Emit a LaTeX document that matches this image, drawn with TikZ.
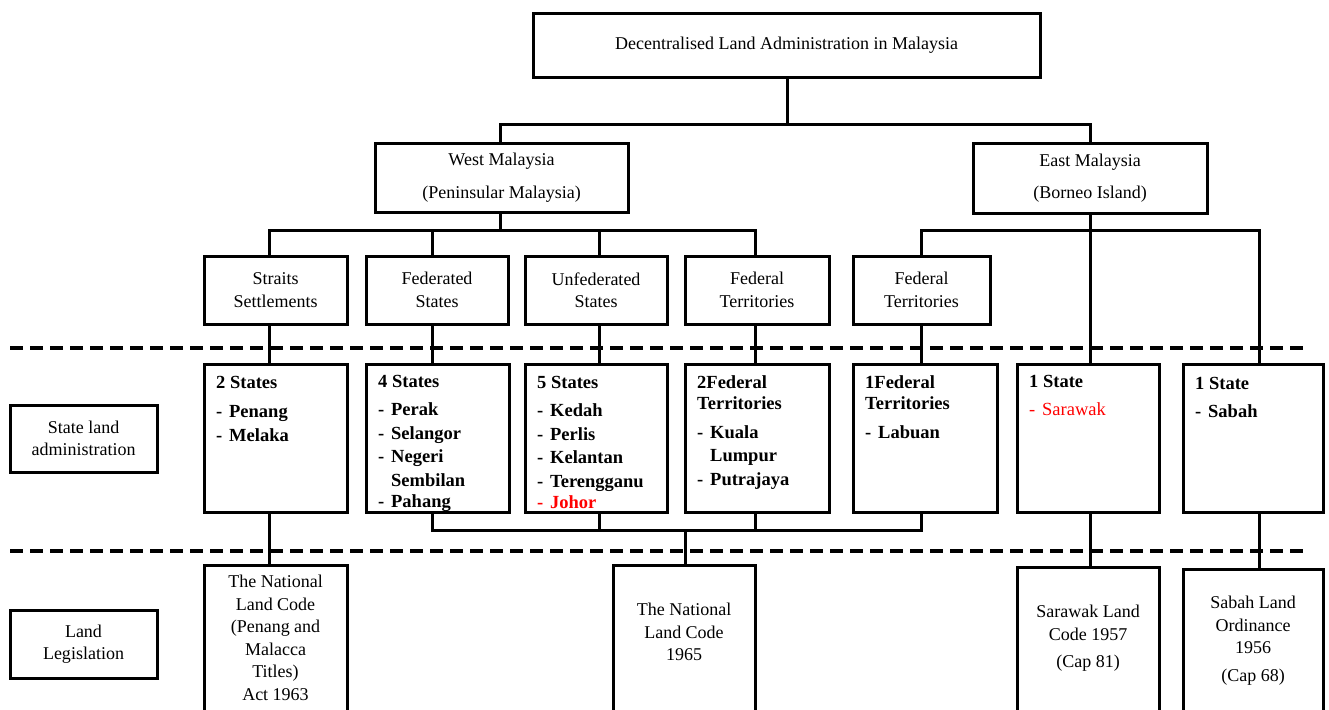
\documentclass[tikz,border=0pt]{standalone}
\usepackage{fontspec}
\setmainfont{Liberation Serif}
\newcommand\itm[1]{\makebox[13pt][l]{-}#1}
\newcommand\ind[1]{\hspace*{13pt}#1}
\begin{document}
\begin{tikzpicture}[x=1pt,y=-1pt,
  box/.style={draw, line width=3pt, inner sep=0pt, outer sep=0pt, anchor=north west},
  conn/.style={line width=3pt, line cap=rect},
  sep/.style={line width=3.5pt, dash pattern=on 13pt off 7pt},
  t/.style={font=\fontsize{18}{22.5}\selectfont, align=center},
  lst/.style={font=\bfseries\fontsize{18.5}{23.5}\selectfont, align=left, anchor=north west, inner sep=0pt},
]
\useasboundingbox (0,0) rectangle (1329,709);
\fill[white] (0,0) rectangle (1329,709);
\clip (0,0) rectangle (1329,709);

% separators
\coordinate (d1a) at (10,348); \coordinate (d1b) at (1305,348);
\coordinate (d2a) at (10,551); \coordinate (d2b) at (1305,551);
\draw[sep] (d1a) -- (d1b);
\draw[sep] (d2a) -- (d2b);

% boxes
\node[box, t, minimum width=507pt, minimum height=63pt] (top) at (533,14) {Decentralised Land Administration in Malaysia};
\node[box, t, minimum width=253pt, minimum height=69pt] (west) at (375,143) {West Malaysia\\[10pt](Peninsular Malaysia)};
\node[box, t, minimum width=234pt, minimum height=70pt] (east) at (973,143) {East Malaysia\\[10pt](Borneo Island)};

\node[box, t, minimum width=143pt, minimum height=68pt] (ss1) at (204,256) {Straits\\Settlements};
\node[box, t, minimum width=142pt, minimum height=68pt] (fs1) at (366,256) {Federated\\States};
\node[box, t, minimum width=142pt, minimum height=68pt] (us1) at (525,256) {Unfederated\\States};
\node[box, t, minimum width=144pt, minimum height=68pt] (ft1) at (685,256) {Federal\\Territories};
\node[box, t, minimum width=137pt, minimum height=68pt] (fte1) at (853,256) {Federal\\Territories};

\node[box, t, minimum width=147pt, minimum height=67pt] (sla) at (10,405) {State land\\administration};
\node[box, t, minimum width=147pt, minimum height=68pt] (ll) at (10,610) {Land\\Legislation};

\node[box, minimum width=143pt, minimum height=148pt] (ss2) at (204,364) {};
\node[box, minimum width=143pt, minimum height=148pt] (fs2) at (366,364) {};
\node[box, minimum width=142pt, minimum height=148pt] (us2) at (525,364) {};
\node[box, minimum width=144pt, minimum height=148pt] (ft2) at (685,364) {};
\node[box, minimum width=144pt, minimum height=148pt] (fte2) at (853,364) {};
\node[box, minimum width=142pt, minimum height=148pt] (sw2) at (1017,364) {};
\node[box, minimum width=140pt, minimum height=148pt] (sb2) at (1183,364) {};

\node[lst] (ss2t) at ([shift={(12pt,-12pt)}]ss2.north west) {2 States\\[6pt]\itm{Penang}\\\itm{Melaka}};
\node[lst] (fs2t) at ([shift={(12pt,-11pt)}]fs2.north west) {4 States\\[5pt]\itm{Perak}\\\itm{Selangor}\\\itm{Negeri}\\\ind{Sembilan}\\[-2pt]\itm{Pahang}};
\node[lst] (us2t) at ([shift={(12pt,-12pt)}]us2.north west) {5 States\\[5pt]\itm{Kedah}\\\itm{Perlis}\\\itm{Kelantan}\\\itm{Terengganu}\\[-2pt]\textcolor{red}{\itm{Johor}}};
\node[lst] (ft2t) at ([shift={(12pt,-11pt)}]ft2.north west) {2Federal\\[-2pt]Territories\\[5pt]\itm{Kuala}\\\ind{Lumpur}\\\itm{Putrajaya}};
\node[lst] (fte2t) at ([shift={(12pt,-11pt)}]fte2.north west) {1Federal\\[-2pt]Territories\\[5pt]\itm{Labuan}};
\node[lst] (sw2t) at ([shift={(12pt,-11pt)}]sw2.north west) {1 State\\[5pt]\textcolor{red}{\mdseries\itm{Sarawak}}};
\node[lst] (sb2t) at ([shift={(12pt,-13pt)}]sb2.north west) {1 State\\[5pt]\itm{Sabah}};

\node[box, minimum width=143pt, minimum height=170pt] (ss3) at (204,565) {};
\node[box, minimum width=142pt, minimum height=170pt] (nlc) at (613,565) {};
\node[box, minimum width=142pt, minimum height=170pt] (swl) at (1017,567) {};
\node[box, minimum width=140pt, minimum height=170pt] (sbl) at (1183,569) {};

\node[t, anchor=north, inner sep=0pt] (ss3t) at ([yshift=-10pt]ss3.north) {The National\\Land Code\\(Penang and\\Malacca\\Titles)\\Act 1963};
\node[t, anchor=north, inner sep=0pt] (nlct) at ([yshift=-38pt]nlc.north) {The National\\Land Code\\1965};
\node[t, anchor=north, inner sep=0pt] (swlt) at ([yshift=-38pt]swl.north) {Sarawak Land\\Code 1957\\[5pt](Cap 81)};
\node[t, anchor=north, inner sep=0pt] (sblt) at ([yshift=-27pt]sbl.north) {Sabah Land\\Ordinance\\1956\\[5pt](Cap 68)};

% line positions
\coordinate (xm) at (787,0);
\coordinate (xw0) at (500,0);
\coordinate (xs) at (269,0);
\coordinate (xf) at (432,0);
\coordinate (xu) at (599,0);
\coordinate (xt) at (755,0);
\coordinate (xe) at (921,0);
\coordinate (xw) at (1090,0);
\coordinate (xb) at (1259,0);
\coordinate (xn) at (685,0);
\coordinate (y1) at (0,124);
\coordinate (y2) at (0,230);
\coordinate (y3) at (0,530);

% connectors
\draw[conn] (top.south -| xm) -- (xm |- y1);
\draw[conn] (west.north -| xw0) -- (xw0 |- y1) -- (xw |- y1) -- (east.north -| xw);
\draw[conn] (west.south -| xw0) -- (xw0 |- y2);
\draw[conn] (ss1.north -| xs) -- (xs |- y2) -- (xt |- y2) -- (ft1.north -| xt);
\draw[conn] (fs1.north -| xf) -- (xf |- y2);
\draw[conn] (us1.north -| xu) -- (xu |- y2);
\draw[conn] (east.south -| xw) -- (sw2.north -| xw);
\draw[conn] (fte1.north -| xe) -- (xe |- y2) -- (xb |- y2) -- (sb2.north -| xb);

\draw[conn] (ss1.south -| xs) -- (ss2.north -| xs);
\draw[conn] (fs1.south -| xf) -- (fs2.north -| xf);
\draw[conn] (us1.south -| xu) -- (us2.north -| xu);
\draw[conn] (ft1.south -| xt) -- (ft2.north -| xt);
\draw[conn] (fte1.south -| xe) -- (fte2.north -| xe);

\draw[conn] (ss2.south -| xs) -- (ss3.north -| xs);
\draw[conn] (fs2.south -| xf) -- (xf |- y3) -- (xe |- y3) -- (fte2.south -| xe);
\draw[conn] (us2.south -| xu) -- (xu |- y3);
\draw[conn] (ft2.south -| xt) -- (xt |- y3);
\draw[conn] (xn |- y3) -- (nlc.north -| xn);
\draw[conn] (sw2.south -| xw) -- (swl.north -| xw);
\draw[conn] (sb2.south -| xb) -- (sbl.north -| xb);
\end{tikzpicture}
\end{document}
